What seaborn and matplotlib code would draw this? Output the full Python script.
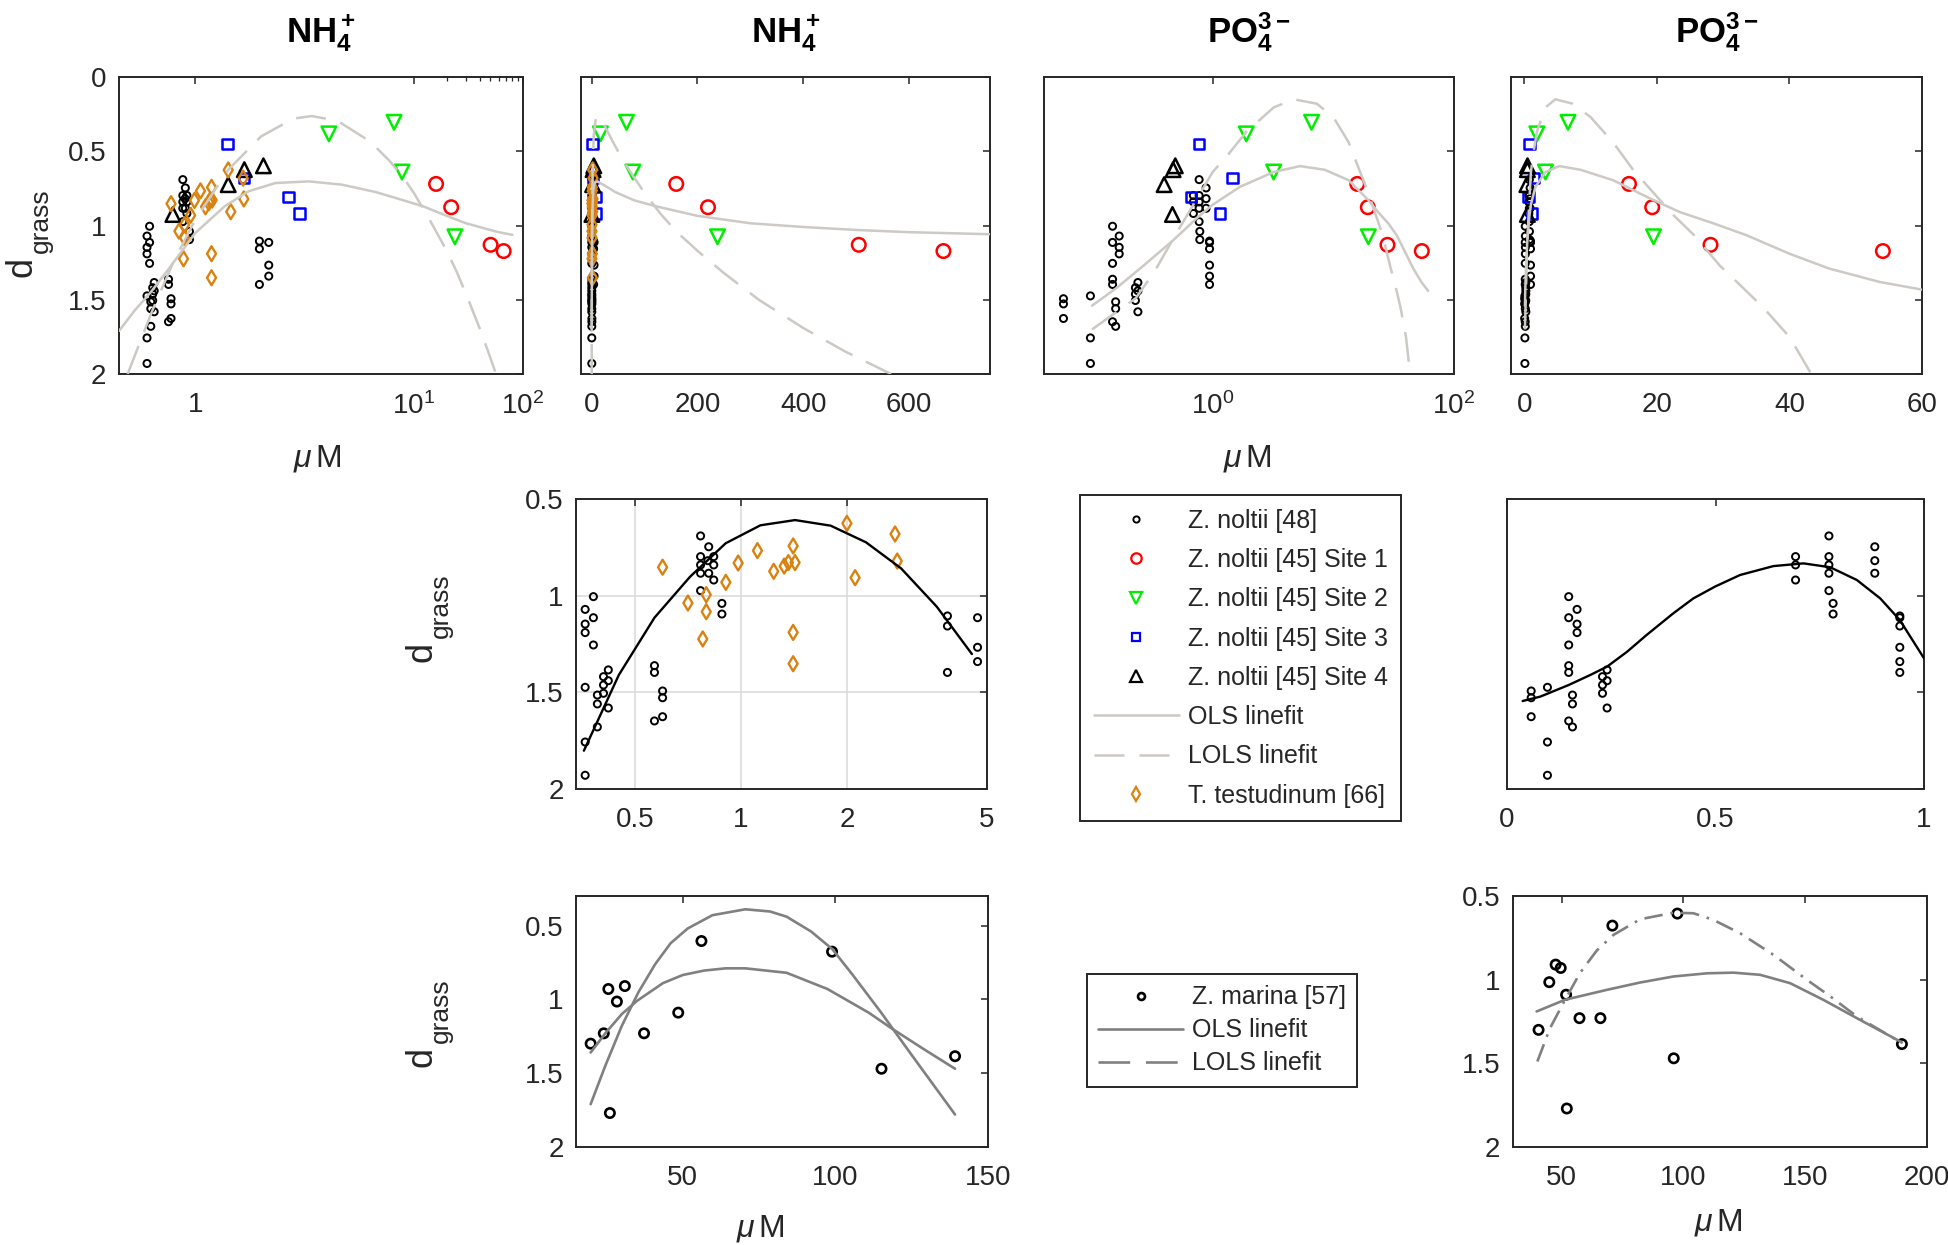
from matplotlib import pyplot as plt
from matplotlib.lines import Line2D
from matplotlib.ticker import NullFormatter
import seaborn as sns


W, H = 1948, 1245
INK = '#262626'
FIT_LIGHT = '#cdc9c4'
FIT_MID = '#808080'
ORANGE = '#d9820f'

# Z. noltii [48]: NH4 and PO4 concentrations (uM) with d_grass
NOLTII_NH4 = [0.361, 0.361, 0.361, 0.381, 0.381, 0.381, 0.361, 0.420, 0.407, 0.420, 0.407,
              0.407, 0.391, 0.391, 0.420, 0.391, 0.361, 0.361, 0.568, 0.568, 0.599, 0.599,
              0.599, 0.568, 0.768, 0.810, 0.768, 0.837, 0.768, 0.805, 0.837, 0.768, 0.810,
              0.837, 0.768, 0.883, 0.883, 3.86, 3.86, 3.86, 4.70, 4.70, 4.70]
NOLTII_PO4 = [0.168, 0.168, 0.168, 0.148, 0.148, 0.148, 0.097, 0.240, 0.229, 0.240, 0.229,
              0.229, 0.157, 0.157, 0.240, 0.157, 0.097, 0.097, 0.148, 0.148, 0.058, 0.058,
              0.058, 0.148, 0.772, 0.882, 0.772, 0.692, 0.772, 0.882, 0.692, 0.772, 0.882,
              0.692, 0.772, 0.782, 0.782, 0.942, 0.942, 0.942, 0.942, 0.942, 0.942]
NOLTII_D = [1.071, 1.147, 1.191, 1.005, 1.114, 1.255, 1.474, 1.384, 1.419, 1.440, 1.462,
            1.505, 1.514, 1.560, 1.581, 1.679, 1.757, 1.929, 1.362, 1.397, 1.493, 1.528,
            1.626, 1.648, 0.691, 0.747, 0.798, 0.798, 0.841, 0.819, 0.841, 0.884, 0.884,
            0.919, 0.974, 1.040, 1.095, 1.105, 1.157, 1.397, 1.114, 1.267, 1.341]

# Z. noltii [45], four sites
SITE1_NH4 = [160, 220, 505, 665]
SITE1_PO4 = [15.8, 19.3, 28.1, 54.1]
SITE1_D = [0.72, 0.877, 1.13, 1.172]
SITE2_NH4 = [16.7, 66, 78, 238]
SITE2_PO4 = [1.9, 6.6, 3.2, 19.5]
SITE2_D = [0.383, 0.305, 0.64, 1.076]
SITE3_NH4 = [1.97, 2.81, 7.15, 8.96]
SITE3_PO4 = [0.77, 1.46, 0.66, 1.15]
SITE3_D = [0.452, 0.68, 0.808, 0.919]
SITE4_NH4 = [0.623, 2.0, 2.81, 4.2]
SITE4_PO4 = [0.464, 0.396, 0.47, 0.49]
SITE4_D = [0.926, 0.725, 0.624, 0.598]

# T. testudinum [66]
TEST_NH4 = [0.599, 0.707, 0.779, 0.797, 0.797, 0.906, 0.982, 1.114, 1.239, 1.327,
            1.364, 1.407, 1.425, 1.407, 1.407, 2.0, 2.11, 2.74, 2.78]
TEST_D = [0.853, 1.038, 1.224, 0.995, 1.083, 0.931, 0.831, 0.767, 0.874, 0.847,
          0.829, 0.743, 0.829, 1.19, 1.352, 0.626, 0.907, 0.681, 0.821]

# fitted curves
OLS_NH4_X = [0.2, 0.28, 0.39, 0.56, 1.0, 1.86, 3.06, 5.4, 11, 22, 45, 80, 121, 200, 300,
             400, 500, 600, 800]
OLS_NH4_Y = [1.71, 1.57, 1.45, 1.30, 1.05, 0.87, 0.77, 0.714, 0.703, 0.725, 0.775, 0.83,
             0.87, 0.935, 0.985, 1.01, 1.03, 1.045, 1.063]
LOLS_NH4_X = [0.24, 0.4, 0.63, 1, 2, 4, 7.9, 11.7, 20, 40, 60, 80, 100, 130, 160, 200, 250,
              316, 400, 480, 566]
LOLS_NH4_Y = [2.0, 1.58, 1.245, 0.96, 0.625, 0.40, 0.28, 0.263, 0.295, 0.435, 0.565, 0.675,
              0.78, 0.92, 1.04, 1.17, 1.32, 1.50, 1.69, 1.85, 2.0]
OLS_PO4_X = [0.1, 0.16, 0.25, 0.47, 0.74, 1.0, 1.68, 3.2, 5.3, 8.5, 13.4, 19.3, 23.5, 28.5,
             33.5, 40, 46, 53.6, 61]
OLS_PO4_Y = [1.54, 1.42, 1.29, 1.10, 0.95, 0.86, 0.74, 0.64, 0.60, 0.625, 0.695, 0.825,
             0.91, 0.985, 1.065, 1.19, 1.29, 1.38, 1.44]
LOLS_PO4_X = [0.1, 0.23, 0.33, 0.47, 1.0, 1.35, 1.9, 3.2, 4.7, 7.3, 10, 13.4, 16.5, 19.5,
              22.5, 25.5, 29.5, 33, 36, 40, 43.3]
LOLS_PO4_Y = [1.70, 1.49, 1.31, 1.09, 0.64, 0.52, 0.37, 0.205, 0.15, 0.18, 0.27, 0.44,
              0.63, 0.78, 0.93, 1.06, 1.27, 1.42, 1.55, 1.75, 2.0]
FIT_NH4_X = [0.358, 0.45, 0.568, 0.717, 0.905, 1.136, 1.425, 1.799, 2.266, 2.851, 3.6, 4.53]
FIT_NH4_Y = [1.802, 1.41, 1.114, 0.902, 0.729, 0.636, 0.609, 0.638, 0.724, 0.859, 1.057, 1.302]
FIT_PO4_X = [0.0375, 0.08, 0.148, 0.2, 0.24, 0.288, 0.335, 0.399, 0.447, 0.499, 0.559,
             0.639, 0.711, 0.775, 0.839, 0.895, 0.942, 1.0]
FIT_PO4_Y = [1.545, 1.522, 1.462, 1.41, 1.367, 1.29, 1.203, 1.091, 1.014, 0.953, 0.893,
             0.847, 0.833, 0.853, 0.919, 1.014, 1.126, 1.324]

# Z. marina [57]
MARINA_NH4 = [19.8, 24.1, 25.6, 26.1, 28.4, 31.0, 37.3, 48.5, 56.1, 98.9, 115.1, 139.2]
MARINA_PO4 = [40.5, 57.3, 49.6, 52.1, 44.9, 47.5, 65.9, 51.8, 97.5, 70.8, 96.0, 189.7]
MARINA_D = [1.30, 1.23, 0.93, 1.77, 1.015, 0.91, 1.23, 1.09, 0.605, 0.677, 1.47, 1.385]
MAR_NH4_A_X = [19.8, 24.6, 30, 35.5, 41, 46, 51.6, 59.7, 70.5, 78.6, 84, 92, 99, 105.5,
               115, 124.4, 132.5, 139.2]
MAR_NH4_A_Y = [1.71, 1.45, 1.18, 0.95, 0.76, 0.62, 0.52, 0.43, 0.39, 0.405, 0.44, 0.54,
               0.66, 0.83, 1.09, 1.36, 1.59, 1.78]
MAR_NH4_B_X = [19.8, 25, 30, 35, 43.5, 50, 57, 64, 70.5, 84, 97.4, 110.9, 118.3, 128.4, 139.2]
MAR_NH4_B_Y = [1.36, 1.22, 1.10, 1.01, 0.89, 0.835, 0.805, 0.79, 0.79, 0.82, 0.93, 1.09,
               1.195, 1.33, 1.47]
MAR_PO4_OLS_X = [39.7, 51.4, 68.5, 82.2, 95.9, 109.6, 120.5, 131.5, 143.8, 157.5, 171.2, 189.7]
MAR_PO4_OLS_Y = [1.19, 1.12, 1.061, 1.017, 0.981, 0.962, 0.958, 0.971, 1.021, 1.121, 1.23, 1.375]
MAR_PO4_LOLS_X = [40, 45.2, 51.4, 57.5, 64.4, 71.2, 82.2, 95.9, 104.1, 112.3, 123.3, 137,
                  150.7, 160.3, 171.2, 189.7]
MAR_PO4_LOLS_Y = [1.489, 1.29, 1.12, 0.96, 0.826, 0.733, 0.639, 0.6, 0.603, 0.643, 0.723,
                  0.852, 1.001, 1.1, 1.22, 1.379]

DASH = (0, (12, 6))
DASHDOT = (0, (7, 3, 1, 3))


def add_axes(fig, left, right, top, bottom):
    return fig.add_axes([left / W, 1 - bottom / H, (right - left) / W, (bottom - top) / H])


def scatter(ax, x, y, marker, size, color, lw=1.2):
    sns.scatterplot(x=x, y=y, ax=ax, marker=marker, s=size, facecolor='none',
                    edgecolor=color, linewidth=lw, legend=False, zorder=2)


def fit_line(ax, x, y, color, ls='-', lw=1.8, z=3):
    sns.lineplot(x=x, y=y, ax=ax, color=color, linestyle=ls, linewidth=lw,
                 sort=False, estimator=None, legend=False, zorder=z)


def style_axes(ax, xlim, xticks, xlabels, ylim, yticks, show_y):
    ax.set_xlim(*xlim)
    ax.set_xticks(xticks)
    ax.set_xticklabels(xlabels)
    ax.set_ylim(ylim[1], ylim[0])
    ax.set_yticks(yticks)
    ax.set_yticklabels([f'{v:g}' for v in yticks] if show_y else [])
    ax.minorticks_off()
    ax.tick_params(direction='in', top=True, right=True, length=5, width=1.1,
                   color=INK, labelcolor=INK, labelsize=20)
    ax.tick_params(axis='x', pad=13)
    ax.tick_params(axis='y', pad=9)
    for s in ax.spines.values():
        s.set_color(INK)
        s.set_linewidth(1.4)


def site_markers(ax, nh4):
    scatter(ax, NOLTII_NH4 if nh4 else NOLTII_PO4, NOLTII_D, 'o', 26, 'black', 1.4)
    scatter(ax, SITE1_NH4 if nh4 else SITE1_PO4, SITE1_D, 'o', 95, '#ff0000', 1.8)
    scatter(ax, SITE2_NH4 if nh4 else SITE2_PO4, SITE2_D, 'v', 110, '#00ee00', 1.8)
    scatter(ax, SITE3_NH4 if nh4 else SITE3_PO4, SITE3_D, 's', 55, '#0000ff', 1.8)
    scatter(ax, SITE4_NH4 if nh4 else SITE4_PO4, SITE4_D, '^', 110, 'black', 1.8)
    if nh4:
        scatter(ax, TEST_NH4, TEST_D, 'd', 58, ORANGE, 1.7)


def d_grass(fig, x, y):
    # MATLAB-style d_{grass}: subscript drawn as its own text
    fig.text(x / W, 1 - y / H, 'd', rotation=90, ha='center', va='center',
             fontsize=26, color=INK)
    fig.text((x + 19) / W, 1 - (y - 46) / H, 'grass', rotation=90, ha='center',
             va='center', fontsize=19, color=INK)


sns.set_theme(style='white')
plt.rcParams['font.family'] = ['Liberation Sans', 'DejaVu Sans']
plt.rcParams['mathtext.fontset'] = 'custom'
plt.rcParams['mathtext.rm'] = 'Liberation Sans'
plt.rcParams['mathtext.it'] = 'Liberation Sans:italic'
plt.rcParams['mathtext.bf'] = 'Liberation Sans:bold'

fig = plt.figure(figsize=(W / 100, H / 100), dpi=100)
fig.patch.set_facecolor('white')

NH4_T = r'$\mathbf{NH_4^+}$'
PO4_T = r'$\mathbf{PO_4^{3-}}$'
UM = r'$\mu\,$M'

# top row
top = [(119, 523), (581, 990), (1044, 1454), (1511, 1922)]
axes_top = [add_axes(fig, l, r, 77, 374) for l, r in top]

ax = axes_top[0]
ax.set_xscale('log')
site_markers(ax, True)
fit_line(ax, OLS_NH4_X, OLS_NH4_Y, FIT_LIGHT)
fit_line(ax, LOLS_NH4_X, LOLS_NH4_Y, FIT_LIGHT, DASH)
style_axes(ax, (0.2, 1000), [1, 100, 1000], ['1', r'$\mathregular{10^1}$', r'$\mathregular{10^2}$'],
           (0, 2), [0, 0.5, 1, 1.5, 2], True)
ax.set_xticks([200, 300, 400, 500, 600, 700, 800, 900], minor=True)
ax.xaxis.set_minor_formatter(NullFormatter())
ax.tick_params(which='minor', direction='in', top=True, length=3, width=0.9, color=INK)

ax = axes_top[1]
site_markers(ax, True)
fit_line(ax, OLS_NH4_X, OLS_NH4_Y, FIT_LIGHT)
fit_line(ax, LOLS_NH4_X, LOLS_NH4_Y, FIT_LIGHT, DASH)
style_axes(ax, (-20, 753), [0, 200, 400, 600], ['0', '200', '400', '600'],
           (0, 2), [0, 0.5, 1, 1.5, 2], False)

ax = axes_top[2]
ax.set_xscale('log')
site_markers(ax, False)
fit_line(ax, OLS_PO4_X, OLS_PO4_Y, FIT_LIGHT)
fit_line(ax, LOLS_PO4_X, LOLS_PO4_Y, FIT_LIGHT, DASH)
style_axes(ax, (0.04, 100), [1, 100], [r'$\mathregular{10^0}$', r'$\mathregular{10^2}$'],
           (0, 2), [0, 0.5, 1, 1.5, 2], False)

ax = axes_top[3]
site_markers(ax, False)
fit_line(ax, OLS_PO4_X, OLS_PO4_Y, FIT_LIGHT)
fit_line(ax, LOLS_PO4_X, LOLS_PO4_Y, FIT_LIGHT, DASH)
style_axes(ax, (-2, 60), [0, 20, 40, 60], ['0', '20', '40', '60'],
           (0, 2), [0, 0.5, 1, 1.5, 2], False)

for ax, t in zip(axes_top, [NH4_T, NH4_T, PO4_T, PO4_T]):
    l, r = ax.get_position().x0, ax.get_position().x1
    fig.text((l + r) / 2, 1 - 42 / H, t, ha='center', va='baseline', fontsize=25, color='black')

# middle row
ax5 = add_axes(fig, 576, 987, 499, 789)
ax5.set_xscale('log')
scatter(ax5, NOLTII_NH4, NOLTII_D, 'o', 26, 'black', 1.4)
scatter(ax5, TEST_NH4, TEST_D, 'd', 58, ORANGE, 1.7)
fit_line(ax5, FIT_NH4_X, FIT_NH4_Y, 'black', lw=1.7)
style_axes(ax5, (0.34, 5), [0.5, 1, 2, 5], ['0.5', '1', '2', '5'],
           (0.5, 2), [0.5, 1, 1.5, 2], True)
ax5.grid(True, which='major', color='#dcdcdc', linewidth=1.2)
ax5.set_axisbelow(True)

ax7 = add_axes(fig, 1507, 1924, 499, 789)
scatter(ax7, NOLTII_PO4, NOLTII_D, 'o', 26, 'black', 1.4)
fit_line(ax7, FIT_PO4_X, FIT_PO4_Y, 'black', lw=1.7)
style_axes(ax7, (0, 1), [0, 0.5, 1], ['0', '0.5', '1'],
           (0.5, 2), [0.5, 1, 1.5, 2], False)

# bottom row
ax8 = add_axes(fig, 576, 988, 896, 1147)
scatter(ax8, MARINA_NH4, MARINA_D, 'o', 45, 'black', 1.9)
fit_line(ax8, MAR_NH4_A_X, MAR_NH4_A_Y, FIT_MID, lw=1.9)
fit_line(ax8, MAR_NH4_B_X, MAR_NH4_B_Y, FIT_MID, lw=1.9)
style_axes(ax8, (15, 150), [50, 100, 150], ['50', '100', '150'],
           (0.3, 2), [0.5, 1, 1.5, 2], True)

ax10 = add_axes(fig, 1513, 1927, 896, 1147)
scatter(ax10, MARINA_PO4, MARINA_D, 'o', 45, 'black', 1.9)
fit_line(ax10, MAR_PO4_OLS_X, MAR_PO4_OLS_Y, FIT_MID, lw=1.9)
fit_line(ax10, MAR_PO4_LOLS_X, MAR_PO4_LOLS_Y, FIT_MID, DASHDOT, lw=1.9)
style_axes(ax10, (30, 200), [50, 100, 150, 200], ['50', '100', '150', '200'],
           (0.5, 2), [0.5, 1, 1.5, 2], True)

# axis labels
for x, y in [(22, 267), (422, 652), (422, 1057)]:
    d_grass(fig, x, y)
for x, y in [(317, 458), (1247, 458), (760, 1228), (1718, 1222)]:
    fig.text(x / W, 1 - y / H, UM, ha='center', va='center', fontsize=23, color=INK)


# legends
def mk(marker, ms, color, mew=1.6):
    return Line2D([], [], ls='none', marker=marker, ms=ms, mfc='none', mec=color, mew=mew)


handles1 = [mk('o', 4.5, 'black', 1.4), mk('o', 7.5, '#ff0000'), mk('v', 8, '#00ee00'),
            mk('s', 6, '#0000ff'), mk('^', 8, 'black'),
            Line2D([], [], color=FIT_LIGHT, lw=1.8),
            Line2D([], [], color=FIT_LIGHT, lw=1.8, ls=DASH),
            mk('d', 7.5, ORANGE)]
labels1 = ['Z. noltii [48]', 'Z. noltii [45] Site 1', 'Z. noltii [45] Site 2',
           'Z. noltii [45] Site 3', 'Z. noltii [45] Site 4', 'OLS linefit', 'LOLS linefit',
           'T. testudinum [66]']
leg1 = fig.legend(handles1, labels1, loc='upper left', bbox_to_anchor=(1080 / W, 1 - 495 / H),
                  frameon=True, fancybox=False, edgecolor=INK, framealpha=1, fontsize=18,
                  handlelength=3.4, handletextpad=0.35, labelspacing=0.61, borderpad=0.55,
                  borderaxespad=0)
leg1.get_frame().set_linewidth(1.4)

handles2 = [mk('o', 5, 'black', 1.9), Line2D([], [], color=FIT_MID, lw=1.9),
            Line2D([], [], color=FIT_MID, lw=1.9, ls=DASH)]
labels2 = ['Z. marina [57]', 'OLS linefit', 'LOLS linefit']
leg2 = fig.legend(handles2, labels2, loc='upper left', bbox_to_anchor=(1087 / W, 1 - 974 / H),
                  frameon=True, fancybox=False, edgecolor=INK, framealpha=1, fontsize=18,
                  handlelength=3.4, handletextpad=0.35, labelspacing=0.36, borderpad=0.45,
                  borderaxespad=0)
leg2.get_frame().set_linewidth(1.4)

fig.savefig('out.png', dpi=100)
